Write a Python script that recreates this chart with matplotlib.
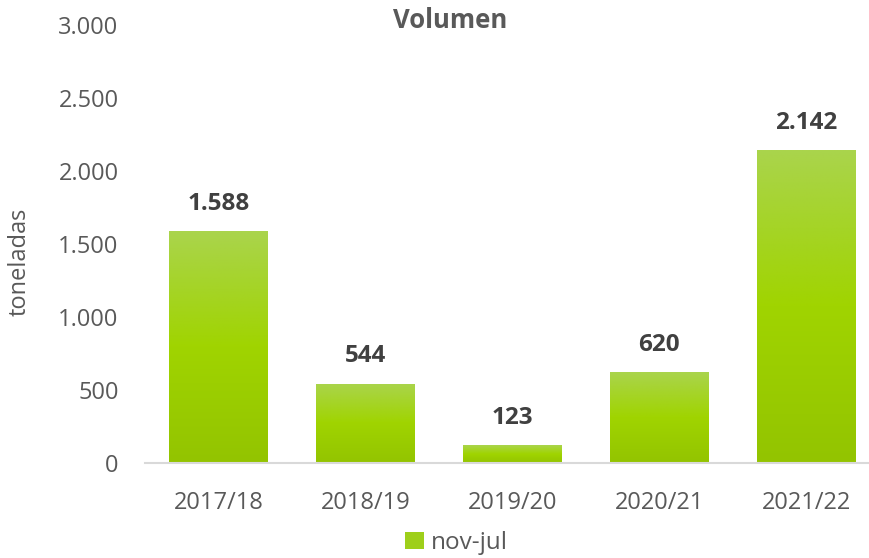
#!/usr/bin/env python3
# plot.py

import numpy as np
import matplotlib.pyplot as plt
from matplotlib.colors import LinearSegmentedColormap
from matplotlib.patches import Patch

plt.rcParams['font.family'] = ['Open Sans', 'DejaVu Sans']

# Data
seasons = ['2017/18', '2018/19', '2019/20', '2020/21', '2021/22']
volumes = [1588, 544, 123, 620, 2142]
series_name = 'nov-jul'
y_ticks = [0, 500, 1000, 1500, 2000, 2500, 3000]

text_color = '#595959'
label_color = '#404040'
grad = LinearSegmentedColormap.from_list('bar_grad', ['#93C400', '#A0D400', '#AAD44C'])


def fmt(v):
	# Spanish thousands separator
	return f'{v:,}'.replace(',', '.')


fig = plt.figure(figsize=(8.7, 5.58), dpi=100)
ax = fig.add_axes([0.1667, 0.1703, 0.8333, 0.7847])

x = np.arange(len(seasons))
bars = ax.bar(x, volumes, width=0.67, color='none', edgecolor='none')

# Vertical gradient fill for each bar
gradient = np.linspace(0, 1, 256).reshape(-1, 1)
for b in bars:
	x0, y0 = b.get_x(), b.get_y()
	w, h = b.get_width(), b.get_height()
	im = ax.imshow(gradient, cmap=grad, aspect='auto', origin='lower',
				   extent=[x0, x0 + w, y0, y0 + h], zorder=2)
	im.set_clip_path(b)

for xi, v in zip(x, volumes):
	ax.annotate(fmt(v), (xi, v), xytext=(0, 11), textcoords='offset points',
				ha='center', va='bottom', fontsize=17.5, fontweight='bold', color=label_color)

ax.set_xlim(-0.5, 4.435)
ax.set_ylim(0, 3000)
ax.set_xticks(x)
ax.set_xticklabels(seasons)
ax.set_yticks(y_ticks)
ax.set_yticklabels([fmt(t) for t in y_ticks])
ax.tick_params(axis='both', length=0, labelsize=17, colors=text_color)
ax.tick_params(axis='x', pad=20)
ax.tick_params(axis='y', pad=19)

for side in ['top', 'right', 'left']:
	ax.spines[side].set_visible(False)
ax.spines['bottom'].set_color('#D9D9D9')
ax.spines['bottom'].set_linewidth(1.5)
ax.spines['bottom'].set_zorder(3)

ax.set_ylabel('toneladas', fontsize=17, color=text_color)
ax.yaxis.set_label_coords(-0.156, 0.459)

fig.text(0.517, 1 - 20 / 558, 'Volumen', ha='center', va='center',
		 fontsize=18.5, fontweight='bold', color=text_color)

handle = Patch(facecolor='#9ECF1A', edgecolor='none')
fig.legend([handle], [series_name], loc='center', bbox_to_anchor=(0.525, 1 - 543 / 558),
		   frameon=False, fontsize=17.5, handlelength=0.75, handleheight=0.75,
		   handletextpad=0.3, labelcolor=text_color, borderpad=0)

fig.savefig('out.png', dpi=100)
